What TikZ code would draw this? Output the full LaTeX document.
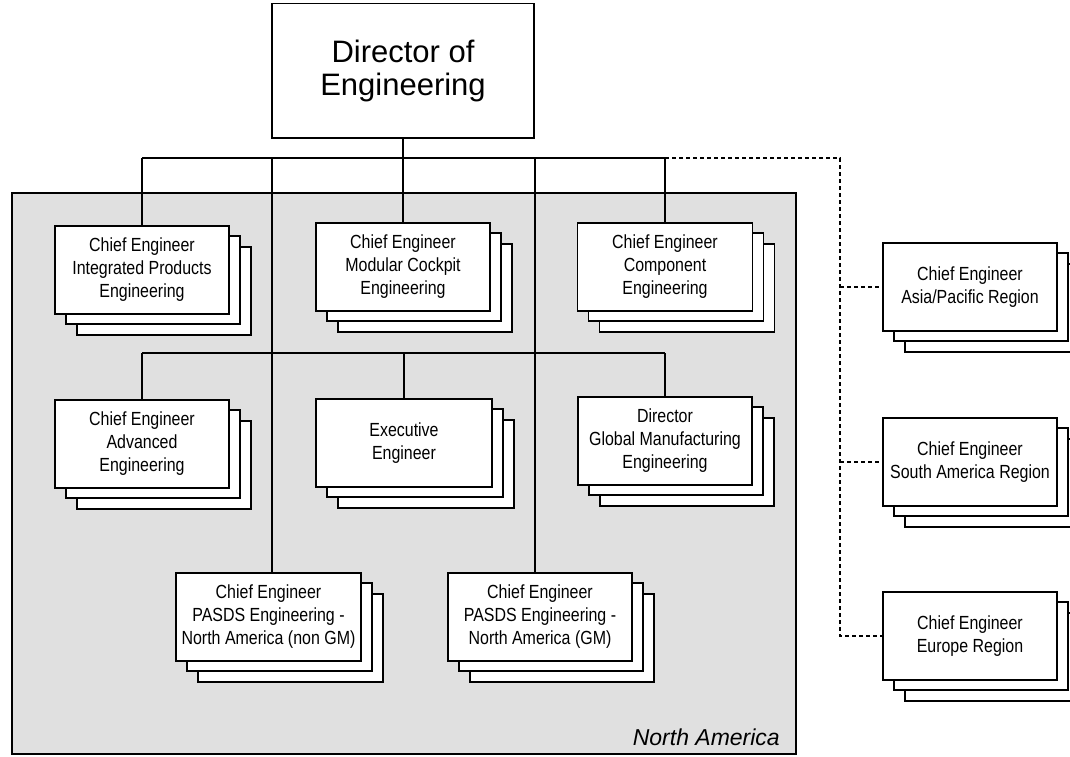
\documentclass[tikz,border=0pt]{standalone}
\usepackage{fontspec}
\setmainfont{Liberation Sans}
% Narrow, tall lettering for the card labels
\newfontfamily\cardfont[FakeStretch=0.84]{Liberation Sans}

% Three stacked cards: two offset back sheets and the labelled front card.
% #1 name, #2 centre x, #3 top y, #4 width, #5 height, #6 text
\newcommand\stackbox[6]{%
  \draw[sheet] (#2-#4/2+22,#3+22) rectangle ++(#4,#5);
  \draw[sheet] (#2-#4/2+11,#3+11) rectangle ++(#4,#5);
  \node[cebox, minimum width=#4pt, minimum height=#5pt] (#1) at (#2,#3) {#6};
}

\begin{document}
\begin{tikzpicture}[x=1pt, y=-1pt,
  sheet/.style={draw=black, fill=white, line width=1.5pt},
  cebox/.style={sheet, anchor=north, align=center, inner sep=0pt,
                font=\cardfont\fontsize{19}{23}\selectfont},
  link/.style={draw=black, line width=1.5pt},
  dlink/.style={link, dash pattern=on 4pt off 3pt},
]
\useasboundingbox (0,0) rectangle (1070,757);
\clip (0,0) rectangle (1070,757);

% North America region
\draw[fill=black!12, line width=1.3pt] (12,193) rectangle (796,754);
\node[anchor=base east, inner sep=0pt, font=\fontsize{23}{27}\selectfont\itshape]
  (na) at (780,745) {North America};

% Top of the organisation
\node[sheet, anchor=north, minimum width=262pt, minimum height=134pt, inner sep=0pt,
      align=center, font=\fontsize{31}{33}\selectfont]
  (dir) at (403,3) {Director of\\Engineering};

% First row
\stackbox{ipe}{142}{225}{174}{88}{Chief Engineer\\Integrated Products\\Engineering}
\stackbox{mce}{403}{222}{174}{88}{Chief Engineer\\Modular Cockpit\\Engineering}
\stackbox{comp}{665}{222}{175}{88}{Chief Engineer\\Component\\Engineering}

% Second row
\stackbox{adv}{142}{399}{174}{88}{Chief Engineer\\Advanced\\Engineering}
\stackbox{exe}{404}{398}{176}{88}{Executive\\Engineer}
\stackbox{gme}{665}{396}{174}{88}{Director\\Global Manufacturing\\Engineering}

% Third row
\stackbox{nongm}{268.5}{572}{185}{88}{Chief Engineer\\PASDS Engineering -\\North America (non GM)}
\stackbox{gm}{540}{572}{184}{88}{Chief Engineer\\PASDS Engineering -\\North America (GM)}

% Other regions
\stackbox{asia}{970}{242}{174}{88}{Chief Engineer\\Asia/Pacific Region}
\stackbox{sa}{970}{417}{174}{88}{Chief Engineer\\South America Region}
\stackbox{eu}{970}{591}{174}{88}{Chief Engineer\\Europe Region}

% Bus coordinates
\coordinate (t1) at (142,158);
\coordinate (t2) at (272,158);
\coordinate (t3) at (403,158);
\coordinate (t4) at (535,158);
\coordinate (t5) at (665,158);
\coordinate (td) at (840,158);
\coordinate (m1) at (142,353);
\coordinate (m3) at (404,353);
\coordinate (m5) at (665,353);

% Solid reporting lines
\draw[link] (dir.south) -- (t3);
\draw[link] (t1) -- (t5);
\draw[link] (t1) -- (ipe.north);
\draw[link] (t3) -- (mce.north);
\draw[link] (t5) -- (comp.north);
\draw[link] (t2) -- (t2 |- nongm.north);
\draw[link] (t4) -- (t4 |- gm.north);
\draw[link] (m1) -- (m5);
\draw[link] (m1) -- (adv.north);
\draw[link] (m3) -- (exe.north);
\draw[link] (m5) -- (gme.north);

% Dotted-line reporting to the other regions
\draw[dlink] (t5) -- (td) -- (td |- eu.west) -- (eu.west);
\draw[dlink] (td |- asia.west) -- (asia.west);
\draw[dlink] (td |- sa.west) -- (sa.west);
\end{tikzpicture}
\end{document}
